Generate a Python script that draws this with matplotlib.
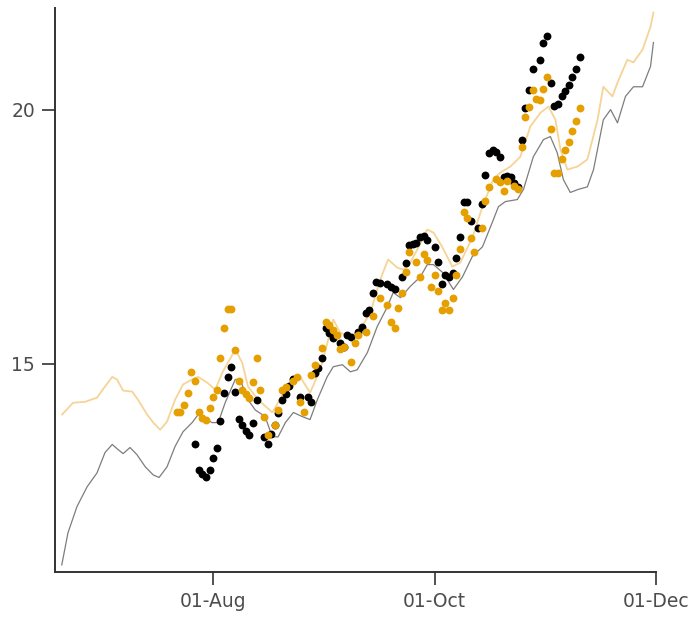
import matplotlib
matplotlib.use("Agg")
import matplotlib.pyplot as plt
import matplotlib.dates as mdates
import pandas as pd

start = pd.Timestamp("2020-06-01")

# smoothed lines: days after 1 June, value
grey_days = [19.3, 21.0, 23.5, 26.3, 29.0, 31.2, 33.2, 34.8, 36.2, 38.1, 40.0, 42.3,
             44.5, 46.1, 48.3, 50.5, 52.7, 55.2, 56.9, 60.7, 62.4, 64.3, 67.1, 68.4,
             70.6, 72.6, 75.3, 77.3, 78.9, 80.9, 83.1, 85.5, 87.7, 89.7, 92.4, 94.1,
             96.6, 98.8, 100.7, 103.5, 106.2, 109.0, 110.6, 112.6, 115.3, 118.1, 120.0,
             121.7, 124.3, 127.2, 129.7, 132.4, 135.2, 137.9, 139.6, 141.5, 144.8, 146.5,
             149.2, 152.0, 153.9, 155.8, 157.5, 159.4, 161.6, 164.1, 165.8, 168.5, 170.5,
             172.4, 174.6, 176.8, 179.3, 181.5, 182.3]
grey_vals = [11.04, 11.67, 12.19, 12.58, 12.85, 13.25, 13.41, 13.31, 13.23, 13.35, 13.21, 12.97,
             12.81, 12.76, 12.97, 13.37, 13.66, 13.84, 14.00, 13.84, 13.84, 14.23, 14.69, 14.69,
             14.29, 14.09, 13.96, 13.56, 13.56, 13.84, 14.04, 13.96, 13.90, 14.29, 14.74, 14.94,
             14.98, 14.84, 14.88, 15.22, 15.73, 16.12, 16.40, 16.30, 16.52, 16.71, 16.95,
             16.95, 16.79, 16.46, 16.71, 17.11, 17.30, 17.78, 18.09, 18.19, 18.23, 18.43,
             19.07, 19.41, 19.47, 19.15, 18.62, 18.37, 18.43, 18.48, 18.82, 19.80, 20.00,
             19.74, 20.26, 20.45, 20.45, 20.85, 21.32]

orange_days = [19.4, 22.4, 25.7, 29.0, 31.2, 33.2, 34.5, 36.2, 38.7, 40.3, 42.8, 44.5,
               46.4, 48.3, 50.5, 52.7, 55.2, 56.9, 59.3, 61.6, 63.5, 67.1, 69.0, 70.6,
               73.4, 77.3, 78.9, 80.9, 82.8, 85.0, 87.7, 90.5, 92.7, 94.1, 96.0, 98.8,
               101.5, 104.3, 107.0, 109.2, 111.7, 113.4, 115.3, 117.2, 120.0, 121.7, 124.1,
               126.9, 129.1, 132.4, 135.2, 137.9, 140.1, 142.9, 145.6, 148.4, 151.2, 153.4,
               155.3, 156.7, 158.6, 161.4, 164.1, 166.9, 168.5, 171.0, 172.4, 175.1, 176.8,
               179.3, 181.5, 182.3]
orange_vals = [14.00, 14.23, 14.25, 14.33, 14.55, 14.74, 14.69, 14.47, 14.45, 14.29, 14.00, 13.84,
               13.70, 13.86, 14.29, 14.59, 14.69, 14.74, 14.63, 14.49, 14.82, 15.28, 15.02, 14.55,
               14.29, 14.04, 14.23, 14.49, 14.69, 14.74, 14.43, 14.88, 15.47, 15.87, 15.61, 15.53,
               15.67, 16.00, 16.65, 17.05, 16.89, 16.85, 16.99, 17.24, 17.64, 17.58, 17.30,
               16.91, 16.99, 17.48, 18.09, 18.58, 18.76, 18.88, 19.07, 19.67, 19.94, 20.06,
               19.80, 19.21, 18.82, 18.88, 19.02, 19.80, 20.45, 20.26, 20.53, 20.98, 20.93,
               21.18, 21.63, 21.91]

# observed points
black_days = [56, 57, 58, 59, 60, 61, 62, 63, 64, 65, 66, 67, 68, 69, 70, 71, 72, 73,
              75, 76, 77, 78, 79, 80, 81, 82, 83, 85, 87, 88, 89, 90, 91, 92, 93, 94,
              96, 97, 98, 99, 101, 102, 103, 104, 105, 106, 107, 109, 110, 111, 113, 114,
              115, 116, 117, 118, 119, 120, 122, 123, 124, 125, 126, 127, 128, 129, 130,
              131, 132, 134, 135, 136, 137, 138, 139, 140, 141, 142, 143, 144, 145, 146,
              147, 148, 149, 151, 152, 153, 154, 155, 156, 157, 158, 159, 160, 161, 162]
black_vals = [13.41, 12.91, 12.83, 12.76, 12.91, 13.15, 13.35, 13.88, 14.43, 14.74, 14.94, 14.45,
              13.92, 13.80, 13.68, 13.60, 13.84, 14.29, 13.56, 13.41, 13.62, 13.80, 14.02, 14.29,
              14.41, 14.57, 14.69, 14.35, 14.35, 14.25, 14.82, 14.92, 15.12, 15.71, 15.61, 15.51,
              15.41, 15.33, 15.57, 15.53, 15.63, 15.73, 16.00, 16.06, 16.40, 16.61, 16.59, 16.56,
              16.50, 16.46, 16.71, 16.99, 17.34, 17.36, 17.38, 17.50, 17.52, 17.44, 17.30, 17.01,
              16.57, 16.75, 16.71, 16.79, 17.07, 17.50, 18.19, 18.19, 17.81, 17.68, 18.15, 18.72,
              19.15, 19.21, 19.17, 19.07, 18.68, 18.70, 18.68, 18.56, 18.48, 19.41, 20.04, 20.39,
              20.79, 20.98, 21.32, 21.44, 20.53, 20.08, 20.12, 20.26, 20.37, 20.49, 20.65, 20.79,
              21.04]

orange_pt_days = [51, 52, 53, 54, 55, 56, 57, 58, 59, 60, 61, 62, 63, 64, 65, 66, 67, 68,
                  69, 70, 71, 72, 73, 74, 75, 76, 78, 79, 80, 81, 83, 84, 85, 86, 88, 89,
                  91, 92, 93, 94, 95, 96, 97, 99, 100, 101, 103, 105, 107, 109, 110, 111,
                  112, 113, 114, 115, 117, 118, 119, 120, 121, 122, 123, 124, 125, 126, 127,
                  128, 129, 130, 131, 132, 133, 135, 136, 137, 139, 140, 141, 142, 144, 145,
                  146, 147, 148, 149, 150, 151, 152, 153, 154, 155, 156, 157, 158, 159, 160,
                  161, 162]
orange_pt_vals = [14.05, 14.05, 14.19, 14.43, 14.84, 14.65, 14.04, 13.94, 13.90, 14.13, 14.35, 14.49,
                  15.12, 15.71, 16.08, 16.08, 15.26, 14.65, 14.49, 14.41, 14.33, 14.63, 15.12, 14.49,
                  13.96, 13.60, 13.80, 14.09, 14.49, 14.55, 14.65, 14.74, 14.25, 14.05, 14.78, 14.98,
                  15.31, 15.83, 15.77, 15.67, 15.57, 15.28, 15.33, 15.04, 15.41, 15.57, 15.63, 15.93,
                  16.30, 16.16, 15.83, 15.71, 16.10, 16.40, 16.81, 17.19, 17.01, 16.71, 17.15, 17.05,
                  16.50, 16.75, 16.44, 16.06, 16.20, 16.06, 16.30, 16.75, 17.26, 17.99, 17.87, 17.48,
                  17.20, 17.68, 18.21, 18.48, 18.64, 18.58, 18.39, 18.60, 18.50, 18.44, 19.27, 19.86,
                  20.06, 20.39, 20.20, 20.18, 20.41, 20.65, 19.61, 18.76, 18.76, 19.02, 19.21, 19.37,
                  19.57, 19.78, 20.04]


def to_dates(days):
    return start + pd.to_timedelta(days, unit="D")


fig = plt.figure(figsize=(6.94, 6.25), dpi=100)
ax = fig.add_axes([0.0793, 0.0848, 0.8659, 0.9024])

ax.plot(to_dates(grey_days), grey_vals, color="#7d7d7d", lw=0.9, zorder=1)
ax.plot(to_dates(orange_days), orange_vals, color="#f5d496", lw=1.3, zorder=1)
ax.scatter(to_dates(black_days), black_vals, s=32, color="black", linewidths=0, zorder=2)
ax.scatter(to_dates(orange_pt_days), orange_pt_vals, s=32, color="#E69F00", linewidths=0, zorder=3)

ax.set_xlim(start + pd.Timedelta(days=17.44), start + pd.Timedelta(days=183))
ax.set_ylim(10.9, 22.0)
ax.set_xticks([pd.Timestamp("2020-08-01"), pd.Timestamp("2020-10-01"), pd.Timestamp("2020-12-01")])
ax.xaxis.set_major_formatter(mdates.DateFormatter("%d-%b"))
ax.set_yticks([15, 20])

for side in ["top", "right"]:
    ax.spines[side].set_visible(False)
for side in ["left", "bottom"]:
    ax.spines[side].set_color("#333333")
    ax.spines[side].set_linewidth(1.4)
ax.tick_params(direction="out", length=9.5, width=1.2, color="#333333",
               labelsize=13.5, labelcolor="#4d4d4d", pad=5)

fig.savefig("out.png", dpi=100)
